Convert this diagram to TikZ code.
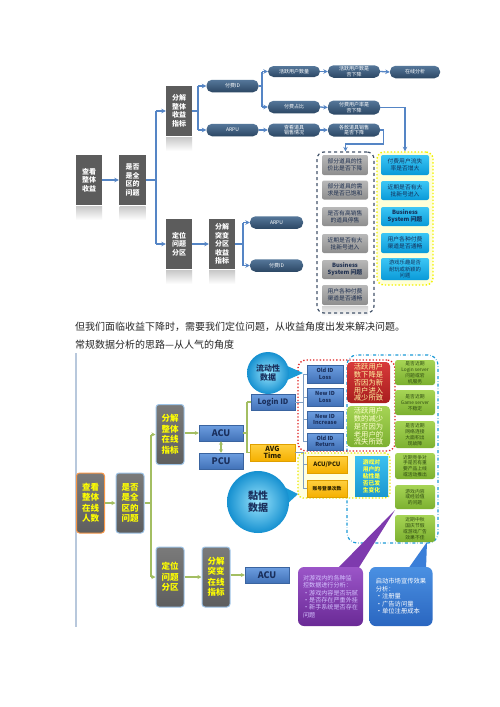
\documentclass[tikz,border=0pt]{standalone}
\usepackage{fontspec}
\setmainfont{Noto Sans CJK SC}
\usetikzlibrary{arrows.meta,shapes.geometric}
\definecolor{tgray}{HTML}{5C5C5C}
\definecolor{tblue}{HTML}{5585C5}
\definecolor{pilltop}{HTML}{55779A}
\definecolor{pillbot}{HTML}{2C4764}
\definecolor{navy}{HTML}{1A2F5C}
\definecolor{lgreen}{HTML}{A3BE62}
\definecolor{lineblue}{HTML}{7F9FC4}
\definecolor{HTML44546A}{HTML}{44546A}
\definecolor{HTMLF2F200}{HTML}{F2F200}
\definecolor{HTMLFFFFD8}{HTML}{FFFFD8}
\definecolor{HTMLb8b8b8}{HTML}{B8B8B8}
\definecolor{HTML8e8e8e}{HTML}{8E8E8E}
\definecolor{HTML1F3050}{HTML}{1F3050}
\definecolor{HTML3CC6F5}{HTML}{3CC6F5}
\definecolor{HTML0A9AD8}{HTML}{0A9AD8}
\definecolor{HTML14305A}{HTML}{14305A}
\definecolor{HTML7A7A7A}{HTML}{7A7A7A}
\definecolor{HTML5E5E5E}{HTML}{5E5E5E}
\definecolor{HTML9DC3E6}{HTML}{9DC3E6}
\definecolor{HTMLFFFF00}{HTML}{FFFF00}
\definecolor{HTMLF79646}{HTML}{F79646}
\definecolor{HTML6D9EE0}{HTML}{6D9EE0}
\definecolor{HTML4272B8}{HTML}{4272B8}
\definecolor{HTML3A64A0}{HTML}{3A64A0}
\definecolor{HTMLFFD040}{HTML}{FFD040}
\definecolor{HTMLF5B000}{HTML}{F5B000}
\definecolor{HTMLE0A000}{HTML}{E0A000}
\definecolor{HTML2A2000}{HTML}{2A2000}
\definecolor{HTMLA6D455}{HTML}{A6D455}
\definecolor{HTML7CB030}{HTML}{7CB030}
\definecolor{HTML2E4A12}{HTML}{2E4A12}
\definecolor{HTML1E9BD7}{HTML}{1E9BD7}
\definecolor{HTMLE02020}{HTML}{E02020}
\definecolor{HTMLE8E800}{HTML}{E8E800}
\definecolor{HTMLFFFFE0}{HTML}{FFFFE0}
\definecolor{HTMLD83A3A}{HTML}{D83A3A}
\definecolor{HTMLA81E1E}{HTML}{A81E1E}
\definecolor{HTMLFFF3A0}{HTML}{FFF3A0}
\definecolor{HTMLFFFFD0}{HTML}{FFFFD0}
\definecolor{HTML3CC0F0}{HTML}{3CC0F0}
\definecolor{HTML1A98D0}{HTML}{1A98D0}
\definecolor{HTMLFFFF40}{HTML}{FFFF40}
\definecolor{HTML1A9AD6}{HTML}{1A9AD6}
\definecolor{HTML9AE4FC}{HTML}{9AE4FC}
\definecolor{HTML1590D0}{HTML}{1590D0}
\definecolor{HTML7E3AAE}{HTML}{7E3AAE}
\definecolor{HTML9B55C8}{HTML}{9B55C8}
\definecolor{HTML6A2A96}{HTML}{6A2A96}
\definecolor{HTMLD4C2FF}{HTML}{D4C2FF}
\definecolor{HTML3A7ED8}{HTML}{3A7ED8}
\definecolor{HTML4A90E2}{HTML}{4A90E2}
\definecolor{HTML2A66C0}{HTML}{2A66C0}
\definecolor{HTMLB8C8DC}{HTML}{B8C8DC}
\begin{document}
\begin{tikzpicture}[x=1pt,y=-1pt,
 tbox/.style={fill=tgray, text=white, font=\bfseries\fontsize{7}{8.5}\selectfont, align=center, inner sep=0pt, minimum width=26pt, minimum height=50pt},
 pill/.style={rounded corners=5.5pt, top color=pilltop, bottom color=pillbot, text=white, font=\fontsize{5}{5.6}\selectfont, align=center, inner sep=0pt, minimum width=52pt, minimum height=12.5pt},
 tl/.style={draw=tblue, line width=1.3pt},
 ta/.style={tl, -{Stealth[length=4.5pt,width=4.5pt]}},
 gi/.style={rounded corners=2pt, top color=HTMLb8b8b8, bottom color=HTML8e8e8e, text=HTML1F3050, font=\fontsize{5.8}{7}\selectfont, align=center, inner sep=0pt, minimum width=46pt},
 ci/.style={rounded corners=2pt, top color=HTML3CC6F5, bottom color=HTML0A9AD8, text=HTML14305A, font=\fontsize{5.8}{7}\selectfont, align=center, inner sep=0pt, minimum width=48pt},
 bg/.style={rounded corners=3pt, top color=HTML7A7A7A, bottom color=HTML5E5E5E, draw=HTML9DC3E6, line width=1pt, text=HTMLFFFF00, font=\bfseries\fontsize{8.5}{10.5}\selectfont, align=center, inner sep=0pt, minimum width=28pt, minimum height=60pt},
 bb/.style={top color=HTML6D9EE0, bottom color=HTML4272B8, draw=HTML3A64A0, line width=0.4pt, text=navy, align=center, inner sep=0pt},
 ob/.style={top color=HTMLFFD040, bottom color=HTMLF5B000, draw=HTMLE0A000, line width=0.4pt, text=HTML2A2000, align=center, inner sep=0pt},
 gc/.style={rounded corners=2.5pt, top color=HTMLA6D455, bottom color=HTML7CB030, text=HTML2E4A12, font=\fontsize{4.8}{5.8}\selectfont, align=center, inner sep=0pt, minimum width=40pt},
 gl/.style={draw=lgreen, line width=1.3pt},
 ga/.style={gl, -{Stealth[length=4pt,width=4pt]}},
 bl/.style={draw=lineblue, line width=1pt},
]
\useasboundingbox[fill=white] (0,0) rectangle (500,707);
% ---------------- top diagram ----------------
% reflections
\foreach \x/\y in {89/206,132.5/206,179/137,179/270,222/270}{
  \shade[top color=black!22, bottom color=white] (\x-13,\y) rectangle (\x+13,\y+14);}
\node[tbox] (A1) at (89,180) {查看\\整体\\收益};
\node[tbox, minimum width=27pt] (A2) at (132.5,180) {是否\\是全\\区的\\问题};
\node[tbox] (A3) at (179,111) {分解\\整体\\收益\\指标};
\node[tbox] (A4) at (179,244) {定位\\问题\\分区};
\node[tbox] (A5) at (222,244) {分解\\突变\\分区\\收益\\指标};
\node[pill] (P1) at (232.5,86) {付费ID};
\node[pill] (P2) at (232.5,130) {ARPU};
\node[pill, minimum height=11pt] (P3) at (294,71.5) {活跃用户数量};
\node[pill] (P4) at (354,71.5) {活跃用户数是\\否下降};
\node[pill, minimum width=50pt] (P5) at (415,72) {在线分析};
\node[pill] (P6) at (294,107) {付费占比};
\node[pill, minimum height=14pt] (P7) at (354,107.5) {付费用户率是\\否下降};
\node[pill, minimum height=13pt] (P8) at (294,130) {查看道具\\销售情况};
\node[pill, minimum height=13pt] (P9) at (354,130) {各款道具销售\\是否下降};
\node[pill, minimum width=53pt] (P10) at (276.5,222.5) {ARPU};
\node[pill, minimum width=53pt] (P11) at (276.5,265.5) {付费ID};
% connectors
\draw[ta] (A1.east) -- (A2.west);
\coordinate (k1) at (156,180);
\draw[tl] (A2.east) -- (k1);
\draw[tl] (156,111) -- (156,244);
\draw[ta] (156,111) -- (A3.west);
\draw[ta] (156,244) -- (A4.west);
\draw[tl] (A3.east) -- (198,111);
\draw[tl] (198,86) -- (198,130);
\draw[ta] (198,86) -- (P1.west);
\draw[ta] (198,130) -- (P2.west);
\draw[tl] (P1.east) -- (262,86);
\draw[tl] (262,71.5) -- (262,107);
\draw[ta] (262,71.5) -- (P3.west);
\draw[ta] (262,107) -- (P6.west);
\draw[ta] (P3.east) -- (P4.west);
\draw[ta] (P4.east) -- (P5.west);
\draw[ta] (P6.east) -- (P7.west);
\draw[ta] (P2.east) -- (P8.west);
\draw[ta] (P8.east) -- (P9.west);
\draw[ta] (A4.east) -- (A5.west);
\draw[tl] (A5.east) -- (243,244);
\draw[tl] (243,222.5) -- (243,265.5);
\draw[ta] (243,222.5) -- (P10.west);
\draw[ta] (243,265.5) -- (P11.west);
% dashed groups
\shade[top color=black!18, bottom color=white] (322,306) rectangle (368,316);
\node[draw=HTML44546A, dashed, line width=1.2pt, rounded corners=7pt, minimum width=57pt, minimum height=161pt, inner sep=0pt] (G) at (345.5,232.5) {};
\node[draw=HTMLF2F200, fill=HTMLFFFFD8, dotted, line width=1.4pt, rounded corners=7pt, minimum width=56pt, minimum height=133pt, inner sep=0pt] (Y) at (405,218.5) {};
\node[gi, minimum height=20pt] (g1) at (345,165) {部分道具的性\\价比是否下降};
\node[gi, minimum height=19pt] (g2) at (345,190) {部分道具的需\\求是否已饱和};
\node[gi, minimum height=19pt] (g3) at (345,216.5) {是否有高销售\\的道具停售};
\node[gi, minimum height=19pt] (g4) at (345,243.5) {近期是否有大\\批新号进入};
\node[gi, minimum height=19pt, font=\bfseries\fontsize{5.8}{7}\selectfont] (g5) at (345,269.5) {Business\\System 问题};
\node[gi, minimum height=20pt] (g6) at (345,295) {用户各种付费\\渠道是否通畅};
\node[ci, minimum height=20pt] (c1) at (405,165) {付费用户流失\\率是否增大};
\node[ci, minimum height=19pt] (c2) at (405,190.5) {近期是否有大\\批新号进入};
\node[ci, minimum height=19pt, font=\bfseries\fontsize{5.8}{7}\selectfont] (c3) at (405,216.5) {Business\\System 问题};
\node[ci, minimum height=20pt] (c4) at (405,243) {用户各种付费\\渠道是否通畅};
\node[ci, minimum height=22pt, font=\fontsize{5.3}{6.4}\selectfont] (c5) at (405,269) {游戏乐趣是否\\耐玩或新颖的\\问题};
\draw[ta] (P7.east) -| (Y.north);
\draw[ta] (P9.east) -- ++(3,0) -- ++(0,14) -| (G.north);
% ---------------- text ----------------
\node[anchor=west, inner sep=0pt, text=black!85, font=\fontsize{10}{12}\selectfont] (t1) at (75,327) {但我们面临收益下降时，需要我们定位问题，从收益角度出发来解决问题。};
\node[anchor=west, inner sep=0pt, text=black!85, font=\fontsize{10}{12}\selectfont] (t2) at (75,345) {常规数据分析的思路—从人气的角度};
% ---------------- bottom diagram ----------------
\draw[draw=HTMLB8C8DC, line width=1.5pt] (76,353) -- (76,627);
% groups
\node[draw=HTML1E9BD7, dash dot, line width=1.2pt, rounded corners=10pt, minimum width=91pt, minimum height=188pt, inner sep=0pt] (D) at (392.5,449) {};
\node[draw=HTMLE02020, dotted, line width=1.3pt, rounded corners=8pt, minimum width=97pt, minimum height=91pt, inner sep=0pt] (R) at (346.5,405.5) {};
\node[draw=HTMLE8E800, fill=HTMLFFFFE0, dotted, line width=1.3pt, rounded corners=5pt, minimum width=92pt, minimum height=45pt, inner sep=0pt] (YY) at (344,475.5) {};
% gray boxes
\node[bg, draw=HTMLF79646] (B1) at (90.5,503) {查看\\整体\\在线\\人数};
\node[bg] (B2) at (130,503) {是否\\是全\\区的\\问题};
\node[bg] (B3) at (170,434.5) {分解\\整体\\在线\\指标};
\node[bg] (B4) at (170,577) {定位\\问题\\分区};
\node[bg] (B5) at (216,577) {分解\\突变\\在线\\指标};
% blue boxes
\node[bb, minimum width=44pt, minimum height=16pt, font=\bfseries\fontsize{9}{10}\selectfont] (U1) at (221,433) {ACU};
\node[bb, minimum width=44pt, minimum height=16pt, font=\bfseries\fontsize{9}{10}\selectfont] (U2) at (221,461) {PCU};
\node[bb, minimum width=44pt, minimum height=16pt, font=\bfseries\fontsize{9}{10}\selectfont] (U3) at (267,575) {ACU};
\node[bb, minimum width=44pt, minimum height=16pt, font=\bfseries\fontsize{7.5}{9}\selectfont] (L) at (273,402) {Login ID};
\node[ob, minimum width=45pt, minimum height=17pt, font=\bfseries\fontsize{7}{7.6}\selectfont] (AV) at (272.5,452.5) {AVG\\Time};
\node[bb, minimum width=36pt, minimum height=18pt, font=\bfseries\fontsize{5.5}{6.5}\selectfont] (o1) at (325,374) {Old ID\\Loss};
\node[bb, minimum width=36pt, minimum height=18pt, font=\bfseries\fontsize{5.5}{6.5}\selectfont] (o2) at (325,397) {New ID\\Loss};
\node[bb, minimum width=36pt, minimum height=17pt, font=\bfseries\fontsize{5.5}{6.5}\selectfont] (o3) at (325,419.5) {New ID\\Increase};
\node[bb, minimum width=36pt, minimum height=17pt, font=\bfseries\fontsize{5.5}{6.5}\selectfont] (o4) at (325,441.5) {Old ID\\Return};
\node[ob, minimum width=40pt, minimum height=17pt, font=\bfseries\fontsize{6}{7}\selectfont] (ap) at (327,464.5) {ACU/PCU};
\node[ob, minimum width=40pt, minimum height=17pt, font=\bfseries\fontsize{4.8}{6}\selectfont] (zh) at (327,488.5) {账号登录次数};
\node[rounded corners=4pt, top color=HTMLD83A3A, bottom color=HTMLA81E1E, text=HTMLFFF3A0, font=\fontsize{7.3}{7.8}\selectfont, align=center, inner sep=0pt, minimum width=43pt, minimum height=41pt] (rd) at (368.5,382.5) {活跃用户\\数下降是\\否因为新\\用户进入\\减少所致};
\node[rounded corners=4pt, top color=HTMLA6D455, bottom color=HTML7CB030, text=HTMLFFFFD0, font=\fontsize{7.3}{7.8}\selectfont, align=center, inner sep=0pt, minimum width=43pt, minimum height=41pt] (gn) at (368.5,426.5) {活跃用户\\数的减少\\是否因为\\老用户的\\流失所致};
\node[top color=HTML3CC0F0, bottom color=HTML1A98D0, text=HTMLFFFF40, font=\bfseries\fontsize{5.8}{7}\selectfont, align=center, inner sep=0pt, minimum width=33pt, minimum height=40pt] (cy) at (371.5,476) {游戏对\\用户的\\粘性是\\否已发\\生变化};
% green column
\node[gc, minimum height=25pt] (q1) at (415,372.5) {是否近期\\Login server\\问题或宕\\机服务};
\node[gc, minimum height=25pt] (q2) at (415,402.5) {是否近期\\Game server\\不稳定};
\node[gc, minimum height=27pt] (q3) at (415,434.5) {是否近期\\网络连接\\大面积出\\现故障};
\node[gc, minimum height=26pt] (q4) at (415,466) {近期竞争对\\手是否有重\\要产品上线\\或活动推出};
\node[gc, minimum height=24pt] (q5) at (415,497) {游戏内容\\或经验值\\的问题};
\node[gc, minimum height=27pt] (q6) at (415,528.5) {近期中秋\\国庆节假\\或游戏广告\\效果不佳};
% bubbles
\fill[HTML1A9AD6] (285,365) -- (303,373) -- (285,381) -- cycle;
\node[circle, inner sep=0pt, minimum size=42pt, inner color=HTML9AE4FC, outer color=HTML1590D0, text=navy, font=\bfseries\fontsize{8}{9.5}\selectfont, align=center] (C1) at (268,373) {流动性\\数据};
\fill[HTML1A9AD6] (284,487) -- (298,494) -- (286,505) -- cycle;
\node[circle, inner sep=0pt, minimum size=62pt, inner color=HTML9AE4FC, outer color=HTML1590D0, text=navy, font=\bfseries\fontsize{10}{12}\selectfont, align=center] (C2) at (258,502) {黏性\\数据};
% callouts
\fill[HTML7E3AAE] (337,569) -- (395,510) -- (358,569) -- cycle;
\node[rounded corners=6pt, top color=HTML9B55C8, bottom color=HTML6A2A96, text=HTMLD4C2FF, font=\fontsize{6.1}{7.4}\selectfont, align=left, inner sep=0pt, minimum width=65pt, minimum height=59pt] (pu) at (330.5,596.5) {对游戏内的各种监\\控数据进行分析：\\•游戏内容是否玩腻\\•是否存在严重外挂\\•新手系统是否存在\\问题};
\fill[HTML3A7ED8] (408,569) -- (427,542) -- (426,569) -- cycle;
\node[rounded corners=6pt, top color=HTML4A90E2, bottom color=HTML2A66C0, text=white, font=\fontsize{6.3}{7.5}\selectfont, align=left, inner sep=0pt, minimum width=63pt, minimum height=59pt] (bu) at (401,596.5) {启动市场宣传效果\\分析：\\•注册量\\•广告访问量\\•单位注册成本};
% bottom connectors
\draw[ga] (B1.east) -- (B2.west);
\draw[gl] (B2.east) -- (151,503);
\draw[gl] (151,434.5) -- (151,577);
\draw[ga] (151,434.5) -- (B3.west);
\draw[ga] (151,577) -- (B4.west);
\draw[ga] (B3.east |- U1.west) -- (U1.west);
\draw[gl, {Stealth[length=3.5pt,width=4pt]}-{Stealth[length=3.5pt,width=4pt]}] (U1.south) -- (U2.north);
\draw[ga] (B4.east) -- (B5.west);
\draw[ga] (B5.east |- U3.west) -- (U3.west);
\draw[gl] (U1.east) -- (247,433);
\draw[gl] (247,402) -- (247,452.5);
\draw[gl] (247,402) -- (L.west);
\draw[gl] (247,452.5) -- (AV.west);
\coordinate (lt) at (303,402);
\draw[bl] (L.east) -- (lt);
\draw[bl] (303,374) -- (303,441.5);
\foreach \n in {o1,o2,o3,o4}{\draw[bl] (lt |- \n.west) -- (\n.west);}
\coordinate (at) at (303,452.5);
\draw[bl] (AV.east) -- (at) -- (303,488.5);
\draw[bl] (at |- ap.west) -- (ap.west);
\draw[bl] (at |- zh.west) -- (zh.west);
\end{tikzpicture}
\end{document}
